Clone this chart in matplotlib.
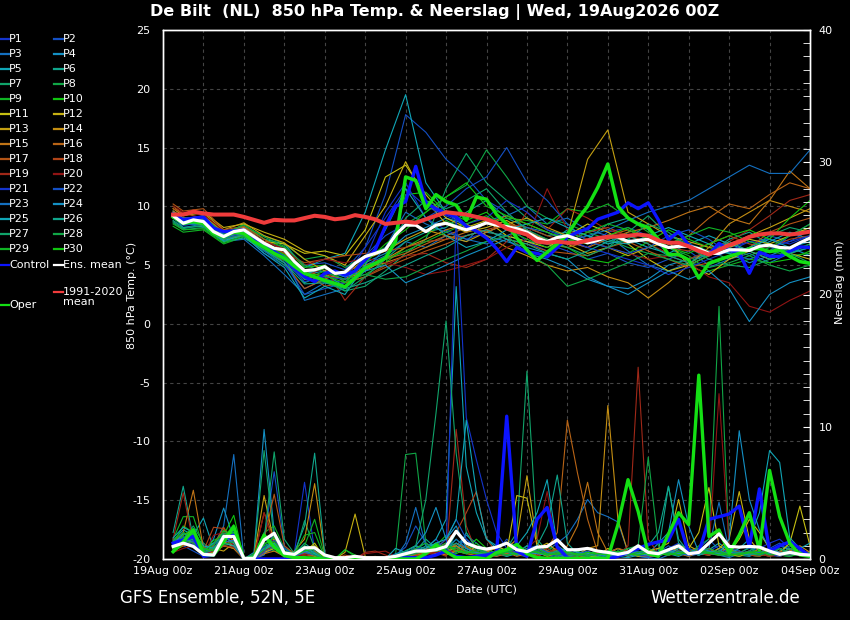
import matplotlib
matplotlib.use('Agg')
import matplotlib.pyplot as plt
from matplotlib.lines import Line2D
from matplotlib.ticker import MultipleLocator
import numpy as np

plt.rcParams['axes.unicode_minus'] = False

# time axis: hours after 19Aug2026 00Z
hours = np.arange(6, 385, 6)                      # 6-hourly (main runs, precip)
member_hours = [6] + list(range(12, 385, 12))     # 12-hourly (member temps)
tick_hours = [0, 48, 96, 144, 192, 240, 288, 336, 384]
tick_labels = ['19Aug 00z', '21Aug 00z', '23Aug 00z', '25Aug 00z', '27Aug 00z',
               '29Aug 00z', '31Aug 00z', '02Sep 00z', '04Sep 00z']

# ---- 850 hPa temperature (deg C), 6-hourly ----
clim_temp = [9.3, 9.3, 9.55, 9.4, 9.3, 9.3, 9.3, 9.1, 8.85, 8.6, 8.85, 8.8, 8.8, 9.0, 9.2, 9.1,
             8.9, 9.0, 9.25, 9.1, 8.9, 8.5, 8.6, 8.7, 8.6, 8.9, 9.2, 9.5, 9.4, 9.3, 9.1, 8.9,
             8.6, 8.1, 7.85, 7.6, 7.0, 6.9, 7.0, 6.9, 6.9, 7.1, 7.3, 7.4, 7.45, 7.5, 7.6, 7.5,
             7.1, 6.9, 6.9, 6.6, 6.2, 5.9, 6.3, 6.7, 7.0, 7.4, 7.6, 7.7, 7.7, 7.6, 7.7, 7.85]
mean_temp = [9.2, 8.56, 8.85, 8.7, 7.85, 7.43, 7.85, 8.0, 7.43, 6.86, 6.43, 6.3, 5.3, 4.53, 4.6, 4.87,
             4.3, 4.4, 5.16, 5.73, 6.0, 6.3, 7.57, 8.4, 8.4, 7.85, 8.4, 8.56, 8.27, 8.0, 8.27, 8.6,
             8.4, 8.27, 8.1, 7.8, 7.3, 7.0, 7.35, 7.5, 7.2, 6.9, 7.1, 7.45, 7.4, 7.0, 7.1, 7.2,
             6.8, 6.5, 6.6, 6.6, 6.4, 6.0, 6.0, 6.3, 6.3, 6.25, 6.6, 6.7, 6.5, 6.45, 6.9, 7.3]
control_temp = [9.3, 8.85, 9.0, 9.1, 8.15, 7.85, 7.9, 8.0, 7.3, 6.6, 6.15, 5.6, 4.75, 4.0, 3.6, 4.3,
                4.5, 4.15, 4.5, 5.45, 6.3, 8.3, 10.0, 10.4, 13.4, 10.3, 9.8, 9.4, 9.1, 8.3, 7.9, 7.3,
                6.4, 5.3, 6.5, 6.1, 6.0, 5.7, 6.5, 7.4, 7.8, 8.1, 8.9, 9.2, 9.5, 10.3, 9.8, 10.3,
                8.85, 7.15, 7.85, 6.7, 6.3, 5.9, 6.85, 6.3, 6.0, 4.3, 6.1, 5.75, 5.75, 6.2, 6.55, 6.5]
oper_temp = [9.1, 8.55, 8.7, 8.55, 7.7, 7.4, 7.8, 7.7, 7.0, 6.55, 6.0, 5.6, 4.9, 4.3, 4.0, 3.7,
             3.45, 3.15, 3.9, 4.75, 5.15, 5.6, 7.0, 12.5, 12.2, 9.8, 11.0, 10.4, 10.1, 8.8, 10.8, 10.6,
             9.3, 8.5, 7.3, 6.3, 5.4, 6.1, 6.8, 7.6, 8.9, 10.0, 11.6, 13.6, 10.0, 9.0, 8.5, 8.2,
             7.2, 5.9, 5.9, 5.45, 3.9, 5.15, 5.45, 5.75, 6.0, 6.4, 6.4, 6.15, 6.3, 5.75, 5.3, 5.15]

# ---- 6-hourly precipitation (mm) ----
mean_rain = [0.95, 1.2, 0.95, 0.35, 0.3, 1.7, 1.7, 0.05, 0.05, 1.45, 1.95, 0.45, 0.35, 0.85, 0.85, 0.3,
             0.1, 0.1, 0.2, 0.1, 0.1, 0.1, 0.2, 0.4, 0.6, 0.6, 0.7, 0.95, 2.1, 1.2, 0.9, 0.75,
             0.9, 1.2, 0.7, 0.55, 0.9, 0.95, 1.45, 0.7, 0.7, 0.8, 0.6, 0.5, 0.35, 0.5, 1.0, 0.5,
             0.4, 0.7, 1.0, 0.4, 0.5, 1.2, 1.9, 0.95, 0.9, 0.95, 0.9, 0.6, 0.35, 0.5, 0.35, 0.3]
control_rain = [1.2, 1.45, 1.7, 0.2, 0.3, 1.5, 1.8, 0, 0, 0, 0, 0, 0, 0, 0, 0,
                0, 0, 0, 0, 0, 0, 0, 0.1, 0.1, 0.1, 0.3, 0.6, 0.2, 0.1, 0.2, 0.3,
                0.5, 10.8, 0.6, 0.2, 3.0, 3.9, 0.9, 0.1, 0, 0, 0, 0, 0.2, 0.5, 0.8, 1.1,
                1.3, 1.4, 3.0, 0.4, 0.5, 3.0, 3.2, 3.4, 4.0, 0.9, 5.3, 0.6, 1.0, 1.3, 0.8, 0.2]
oper_rain = [0.55, 1.3, 2.2, 0.35, 0.3, 1.3, 2.45, 0, 0.1, 1.8, 0.9, 0.25, 0.1, 0.1, 0.05, 0,
             0, 0, 0, 0, 0, 0, 0, 0, 0, 0.4, 1.06, 0.55, 0.1, 0.1, 0.1, 0,
             0.5, 0.7, 1.1, 0.4, 0.1, 0.05, 0.05, 0.05, 0.05, 0.05, 0.05, 0.05, 2.6, 6.0, 3.6, 0.4,
             0.2, 1.9, 3.5, 2.6, 13.9, 1.7, 2.2, 0.45, 1.8, 3.5, 0.7, 6.7, 3.2, 1.2, 0.3, 0.2]

# ---- perturbed members: temperature (12-hourly) ----
T_P1 = [9.0, 8.4, 8.6, 7.2, 7.5, 6.0, 5.0, 3.0, 3.8, 3.5, 5.5, 9.5, 12.0, 9.0, 8.0, 7.2, 7.8,
        8.5, 7.0, 6.2, 7.0, 6.5, 7.8, 8.2, 7.5, 6.0, 5.5, 5.8, 6.5, 7.0, 7.2, 6.8, 7.5]
T_P2 = [9.4, 8.8, 9.0, 7.8, 8.2, 7.0, 6.5, 5.0, 5.2, 4.6, 6.5, 11.0, 17.8, 16.3, 14.0, 12.5, 10.5,
        9.5, 8.0, 6.8, 6.2, 5.5, 6.0, 5.2, 4.8, 5.5, 6.2, 5.0, 5.8, 6.5, 7.5, 7.0, 8.0]
T_P3 = [9.1, 8.2, 8.5, 7.0, 7.2, 5.8, 4.2, 2.5, 3.5, 3.2, 5.0, 5.8, 7.0, 6.5, 7.5, 7.0, 8.8,
        9.2, 10.0, 8.5, 9.0, 8.0, 7.5, 6.2, 5.0, 4.5, 5.2, 4.8, 5.5, 6.0, 5.2, 6.0, 6.5]
T_P4 = [9.3, 8.6, 8.8, 7.6, 7.8, 6.5, 5.8, 4.2, 4.5, 4.0, 5.2, 6.0, 7.5, 8.2, 9.0, 8.5, 7.5,
        7.0, 6.5, 6.0, 5.5, 4.0, 3.2, 3.0, 3.8, 5.0, 5.5, 6.2, 6.0, 5.2, 5.8, 6.5, 5.8]
T_P5 = [9.6, 9.0, 9.1, 7.8, 8.3, 7.2, 6.8, 4.8, 5.5, 6.0, 9.5, 14.8, 19.5, 12.0, 9.5, 8.2, 7.8,
        7.5, 7.0, 6.8, 8.0, 7.5, 6.8, 7.2, 6.5, 6.0, 6.8, 7.5, 6.8, 6.2, 7.0, 7.8, 7.2]
T_P6 = [9.0, 8.5, 8.4, 7.2, 8.0, 6.8, 5.8, 3.5, 4.2, 3.2, 4.8, 5.5, 7.0, 7.8, 8.2, 9.5, 10.5,
        9.0, 8.2, 7.5, 7.8, 7.2, 8.5, 9.0, 8.0, 6.5, 5.5, 6.0, 7.2, 7.8, 6.8, 6.0, 6.8]
T_P7 = [8.6, 8.0, 8.2, 7.0, 7.6, 6.2, 5.0, 4.0, 3.8, 2.8, 3.2, 4.5, 6.0, 7.2, 11.5, 14.5, 12.0,
        10.5, 9.0, 8.0, 7.5, 7.0, 6.5, 7.8, 9.2, 7.5, 6.8, 6.2, 5.5, 6.2, 7.5, 8.2, 7.8]
T_P8 = [9.2, 8.7, 9.0, 7.8, 8.2, 7.5, 6.8, 5.5, 5.8, 4.8, 5.8, 6.5, 8.5, 9.5, 10.8, 11.8, 14.8,
        12.5, 10.0, 9.0, 8.5, 7.8, 7.2, 6.5, 6.0, 5.8, 5.2, 4.8, 5.2, 5.8, 6.5, 6.2, 6.8]
T_P9 = [8.3, 7.8, 8.0, 6.8, 7.4, 6.2, 5.4, 3.8, 4.5, 3.6, 4.2, 5.2, 6.5, 7.5, 8.8, 8.0, 8.5,
        9.0, 8.8, 8.5, 9.8, 9.5, 10.2, 9.0, 7.8, 6.5, 5.8, 4.5, 5.0, 5.5, 6.2, 5.8, 6.0]
T_P10 = [9.0, 8.5, 8.8, 7.5, 8.5, 7.2, 6.5, 4.8, 5.0, 3.5, 4.0, 5.0, 11.0, 11.2, 9.5, 8.8, 9.5,
         8.0, 7.5, 6.8, 6.5, 5.5, 5.2, 6.0, 7.0, 8.0, 7.2, 6.5, 6.0, 5.5, 5.2, 5.5, 6.2]
T_P11 = [9.5, 8.8, 9.2, 7.8, 8.0, 7.0, 6.8, 6.0, 6.2, 5.8, 8.0, 12.5, 13.5, 11.0, 9.0, 8.2, 8.8,
         7.5, 7.0, 6.5, 7.5, 8.5, 7.8, 6.8, 5.5, 4.5, 5.0, 5.8, 6.5, 7.2, 6.8, 7.5, 8.2]
T_P12 = [9.8, 9.2, 9.5, 8.2, 8.5, 7.8, 7.2, 6.2, 5.8, 5.0, 7.5, 10.0, 13.8, 10.5, 8.5, 7.8, 8.2,
         8.8, 7.8, 7.2, 6.8, 6.0, 6.5, 5.8, 6.5, 7.0, 5.0, 4.2, 5.5, 6.2, 5.5, 6.0, 5.5]
T_P13 = [10.0, 9.3, 9.4, 8.0, 8.6, 7.5, 6.9, 5.5, 4.5, 4.2, 5.5, 6.2, 7.2, 8.0, 7.5, 7.0, 7.8,
         8.5, 9.0, 8.2, 7.5, 14.0, 16.5, 9.5, 8.5, 7.5, 7.0, 6.5, 6.8, 7.5, 8.2, 9.0, 9.8]
T_P14 = [9.2, 8.9, 9.2, 7.8, 8.2, 7.0, 6.0, 4.5, 4.0, 3.8, 4.5, 5.5, 6.5, 7.2, 8.0, 8.5, 7.5,
         6.5, 5.8, 5.0, 4.5, 4.8, 4.0, 3.5, 2.2, 3.5, 5.0, 6.5, 8.5, 9.5, 10.5, 10.0, 9.5]
T_P15 = [9.6, 9.0, 8.8, 7.5, 7.8, 6.5, 5.5, 3.8, 4.2, 3.8, 4.8, 5.2, 5.8, 6.5, 7.2, 7.8, 8.5,
         9.2, 8.5, 7.8, 7.0, 6.5, 7.2, 7.8, 8.2, 8.8, 9.5, 10.0, 9.0, 8.5, 10.5, 13.0, 11.5]
T_P16 = [9.0, 8.6, 8.5, 7.2, 7.5, 6.6, 5.2, 3.0, 3.8, 4.5, 5.0, 5.5, 6.0, 6.8, 7.5, 8.2, 7.8,
         8.5, 8.0, 7.0, 6.5, 7.0, 7.5, 8.0, 7.2, 6.8, 7.5, 9.0, 10.2, 9.8, 11.0, 12.0, 11.5]
T_P17 = [10.2, 9.6, 9.8, 8.0, 8.3, 7.2, 6.2, 4.5, 3.2, 3.5, 4.0, 4.8, 5.5, 6.2, 6.8, 7.5, 8.0,
         7.2, 6.8, 6.2, 6.0, 5.8, 6.5, 7.0, 6.2, 5.5, 4.8, 5.2, 5.8, 6.5, 7.8, 8.5, 9.0]
T_P18 = [9.8, 9.4, 9.0, 7.6, 7.9, 6.8, 6.0, 5.2, 5.5, 5.8, 6.0, 6.2, 6.5, 7.0, 7.2, 7.5, 8.0,
         8.5, 8.2, 7.5, 7.0, 7.8, 8.2, 7.5, 7.0, 6.5, 6.2, 6.8, 7.5, 6.8, 6.5, 7.2, 7.5]
T_P19 = [9.4, 9.0, 8.9, 7.4, 7.7, 6.3, 5.6, 4.0, 4.8, 2.0, 4.0, 5.0, 5.8, 6.0, 5.2, 4.8, 5.5,
         7.0, 9.5, 8.0, 9.8, 9.0, 8.0, 7.5, 6.8, 6.0, 5.5, 6.2, 7.0, 8.0, 9.2, 10.5, 11.0]
T_P20 = [10.0, 9.5, 9.3, 7.9, 8.1, 7.0, 6.4, 5.0, 5.5, 5.2, 5.6, 5.2, 4.8, 4.2, 4.5, 5.0, 5.5,
         6.5, 7.2, 11.5, 8.0, 7.2, 6.5, 6.0, 5.5, 5.8, 5.2, 4.0, 3.5, 1.5, 1.0, 2.0, 2.8]
T_P21 = [9.2, 8.7, 8.8, 7.5, 7.8, 6.4, 5.4, 3.6, 4.0, 3.8, 6.5, 9.0, 11.5, 10.0, 9.2, 8.5, 9.0,
         10.5, 9.5, 8.0, 7.2, 6.5, 6.0, 5.5, 5.0, 4.2, 4.8, 5.5, 6.2, 7.0, 6.5, 7.0, 7.5]
T_P22 = [9.0, 8.4, 8.6, 7.3, 7.6, 6.2, 5.2, 2.5, 3.0, 3.5, 5.8, 7.5, 8.5, 9.0, 10.0, 11.5, 12.5,
         15.0, 12.0, 10.5, 8.5, 7.0, 6.5, 6.0, 6.5, 7.5, 8.0, 7.2, 6.0, 5.5, 6.2, 7.5, 8.5]
T_P23 = [9.3, 8.8, 8.7, 7.4, 7.7, 6.6, 5.8, 2.0, 2.5, 3.0, 4.5, 6.5, 9.5, 8.5, 7.8, 7.2, 6.8,
         7.5, 8.2, 7.8, 7.0, 7.5, 8.0, 8.8, 9.5, 10.0, 10.5, 11.5, 12.5, 13.5, 12.8, 12.8, 14.8]
T_P24 = [9.5, 9.0, 8.9, 7.6, 8.0, 6.8, 6.2, 4.2, 4.8, 4.0, 4.5, 5.0, 3.5, 4.2, 5.0, 5.8, 6.5,
         7.2, 6.0, 5.5, 4.8, 3.8, 3.2, 2.5, 3.5, 4.5, 3.8, 4.5, 3.0, 0.2, 2.5, 3.5, 4.0]
T_P25 = [9.1, 8.6, 8.5, 7.1, 7.5, 6.0, 4.8, 2.2, 3.2, 2.5, 5.0, 8.0, 11.5, 9.0, 7.5, 6.5, 7.0,
         8.0, 8.5, 9.0, 8.2, 7.5, 7.0, 6.8, 7.5, 8.2, 7.5, 6.8, 6.0, 6.5, 7.2, 6.5, 7.0]
T_P26 = [8.8, 8.2, 8.3, 7.0, 7.3, 6.3, 5.2, 3.4, 3.5, 3.0, 3.5, 4.2, 5.0, 5.8, 6.5, 7.5, 8.0,
         7.2, 6.8, 6.0, 5.5, 6.2, 7.0, 7.5, 6.8, 5.8, 5.2, 6.0, 7.0, 6.2, 5.5, 6.0, 6.5]
T_P27 = [8.7, 8.1, 8.4, 7.2, 7.6, 6.6, 5.6, 3.8, 3.6, 2.8, 4.0, 5.5, 9.0, 10.5, 9.8, 10.5, 11.5,
         9.5, 8.0, 7.2, 6.5, 5.8, 6.5, 7.2, 8.5, 7.8, 6.5, 5.5, 5.0, 4.8, 5.5, 6.0, 5.2]
T_P28 = [9.3, 8.8, 9.1, 7.7, 8.4, 7.4, 6.6, 5.0, 4.4, 3.8, 4.2, 3.8, 4.0, 4.8, 5.5, 6.2, 7.0,
         7.5, 6.0, 5.0, 3.2, 3.8, 4.5, 5.2, 6.0, 5.5, 5.0, 5.8, 6.5, 5.8, 5.0, 4.5, 5.0]
T_P29 = [8.5, 8.0, 8.1, 6.9, 7.5, 6.4, 5.4, 4.4, 4.7, 4.2, 4.8, 5.5, 6.2, 7.0, 7.8, 8.5, 9.2,
         8.0, 7.2, 6.5, 7.0, 7.8, 8.5, 8.0, 7.2, 6.8, 7.5, 8.2, 7.8, 7.0, 6.5, 7.5, 8.5]
T_P30 = [9.1, 8.6, 8.7, 7.4, 8.0, 6.7, 5.9, 4.3, 4.1, 3.5, 5.2, 6.8, 8.0, 9.5, 10.8, 12.0, 10.0,
         9.2, 8.5, 7.8, 7.2, 6.8, 7.5, 8.2, 7.2, 6.5, 6.0, 6.8, 7.5, 8.0, 7.2, 9.0, 10.5]

# ---- perturbed members: precipitation (6-hourly) ----
R_P1 = [0.8, 1.2, 1.0, 0.3, 0.6, 1.2, 1.5, 0, 0, 0.4, 0.8, 0.3, 0.5, 5.8, 0.6, 0.1,
        0, 0, 0, 0, 0, 0, 0.1, 0.3, 0.5, 0.8, 1.5, 0.6, 0.8, 1.5, 0.8, 0.4,
        0.2, 0.5, 0.8, 0.3, 0.2, 0.6, 0.3, 0.1, 0, 0, 0.2, 0.5, 0.8, 0.3, 0.2, 0.1,
        0.3, 0.8, 1.2, 0.5, 0.3, 0.6, 1.0, 0.4, 0.2, 0.5, 0.8, 1.2, 1.5, 0.8, 0.4, 0.2]
R_P2 = [1.5, 1.0, 0.6, 0.2, 0.8, 1.8, 2.0, 0, 0.2, 1.5, 6.6, 1.0, 0.3, 0.2, 0.5, 0,
        0, 0, 0, 0, 0, 0, 0, 0.2, 1.0, 0.5, 0.8, 0.5, 1.2, 0.8, 0.5, 0.3,
        0.5, 1.5, 0.8, 0.4, 0.2, 0.1, 0.3, 0.5, 0.8, 0.3, 0.1, 0, 0.2, 0.5, 0.3, 0.1,
        0.5, 1.0, 0.6, 0.3, 0.8, 1.5, 0.7, 0.3, 0.6, 0.3, 0.2, 0.8, 1.2, 0.6, 0.3, 0.5]
R_P3 = [1.2, 2.0, 1.5, 0.4, 1.0, 2.5, 7.9, 0, 0, 0.3, 1.5, 0.8, 0.2, 0.5, 0.3, 0,
        0, 0, 0, 0.1, 0, 0, 0.2, 0.5, 0.8, 1.2, 0.5, 0.3, 1.0, 1.8, 1.2, 0.6,
        0.4, 0.8, 0.3, 0.5, 0.2, 0.6, 1.2, 1.8, 3.0, 4.5, 3.5, 3.2, 2.8, 0.5, 0.2, 0.1,
        0, 0.3, 0.5, 0.2, 0.4, 0.8, 0.3, 0.1, 0.4, 0.9, 0.5, 0.3, 0.2, 0.6, 0.4, 0.2]
R_P4 = [1.0, 1.6, 1.2, 0.5, 1.5, 3.85, 1.5, 0, 0.5, 9.8, 2.0, 0.6, 0.3, 1.0, 0.4, 0,
        0, 0, 0, 0, 0, 0.1, 0, 0, 0.3, 0.6, 1.2, 0.8, 0.5, 2.0, 0.8, 0.3,
        0.6, 0.2, 0.4, 1.0, 0.5, 0.3, 0.8, 0.4, 0.2, 0.5, 0.3, 0.1, 0.3, 0.8, 0.5, 0.4,
        1.2, 2.0, 6.0, 2.5, 0.5, 0.8, 0.4, 0.3, 0.5, 0.3, 0.6, 0.4, 1.0, 0.7, 0.3, 0.6]
R_P5 = [1.4, 2.2, 1.8, 3.1, 0.8, 1.0, 0.9, 0, 0.1, 0.6, 0.9, 0.4, 0.2, 0.5, 0.3, 0,
        0, 0, 0, 0, 0, 0, 0.2, 0.6, 1.0, 0.8, 1.5, 3.0, 20.6, 7.0, 3.5, 1.5,
        1.0, 0.6, 0.3, 0.5, 0.8, 0.4, 0.2, 0.3, 0.1, 0.4, 0.6, 0.3, 0.2, 0.1, 0.3, 0.5,
        0.8, 0.4, 0.2, 0.5, 0.3, 0.7, 1.2, 0.6, 0.3, 0.2, 0.5, 0.8, 0.4, 0.3, 0.6, 0.2]
R_P6 = [2.0, 5.5, 1.5, 0.8, 1.2, 2.0, 1.0, 0, 0, 0.5, 1.8, 0.8, 0.4, 1.2, 0.6, 0,
        0, 0, 0, 0, 0, 0, 0, 0.3, 0.6, 1.5, 0.8, 0.5, 2.0, 1.2, 0.6, 0.8,
        0.4, 0.2, 0.5, 1.0, 0.6, 0.3, 0.8, 0.5, 0.3, 0.1, 0.2, 0.4, 0.8, 0.5, 0.3, 0.2,
        0.5, 5.5, 1.2, 0.6, 0.4, 0.3, 0.8, 0.5, 0.3, 0.6, 1.0, 0.5, 0.3, 0.2, 0.4, 0.3]
R_P7 = [1.0, 1.5, 2.5, 1.2, 0.6, 1.5, 2.2, 0, 0.3, 8.2, 1.5, 0.5, 0.2, 2.9, 0.8, 0,
        0, 0, 0, 0, 0, 0, 0.1, 0.2, 0.4, 0.8, 1.2, 0.6, 1.5, 0.8, 0.5, 0.3,
        0.5, 0.8, 2.0, 14.2, 1.5, 0.6, 0.3, 0.2, 0.1, 0.3, 0.5, 0.2, 0.4, 0.8, 0.5, 0.3,
        0.2, 0.6, 0.4, 0.3, 0.8, 0.5, 0.3, 0.2, 0.5, 0.8, 0.4, 0.2, 0.6, 1.0, 0.5, 0.3]
R_P8 = [0.8, 1.2, 1.0, 0.5, 0.8, 1.5, 1.8, 0, 0.2, 1.0, 0.6, 0.4, 0.3, 0.8, 0.5, 0.1,
        0, 0.1, 0, 0, 0, 0.1, 0.3, 7.9, 8.0, 1.2, 0.6, 0.8, 1.0, 0.5, 0.8, 0.4,
        0.3, 0.6, 0.4, 0.8, 0.5, 0.3, 0.2, 0.4, 0.6, 0.3, 0.2, 0.1, 0.3, 0.5, 0.4, 0.8,
        0.5, 0.3, 0.6, 0.4, 1.0, 1.5, 19.1, 0.8, 0.4, 0.3, 0.6, 0.5, 0.3, 0.8, 0.4, 0.2]
R_P9 = [1.5, 3.2, 3.2, 0.9, 1.0, 2.2, 1.6, 0, 0.4, 2.0, 2.5, 0.8, 0.5, 1.0, 3.0, 0.2,
        0, 0.7, 0.2, 0, 0, 0, 0.1, 0.3, 0.8, 0.5, 1.0, 1.8, 0.8, 0.6, 1.2, 0.5,
        0.3, 0.5, 0.8, 0.4, 0.6, 1.0, 0.5, 0.3, 0.2, 0.4, 0.3, 0.5, 0.8, 0.4, 0.2, 0.6,
        0.8, 0.4, 0.3, 0.6, 0.4, 0.8, 0.5, 0.3, 0.2, 0.4, 0.8, 0.5, 0.3, 0.2, 0.4, 0.3]
R_P10 = [1.2, 2.5, 2.0, 0.6, 1.4, 1.8, 3.3, 0, 0, 1.0, 1.2, 0.5, 0.3, 0.6, 0.4, 0,
         0, 0, 0.1, 0, 0, 0, 0, 0.2, 0.5, 0.3, 1.2, 0.6, 0.4, 0.8, 1.5, 0.8,
         0.4, 0.6, 0.3, 0.2, 0.5, 0.8, 0.4, 0.3, 0.2, 0.1, 0.4, 0.6, 0.3, 0.5, 1.0, 0.5,
         0.3, 0.6, 0.4, 0.8, 0.5, 0.3, 0.6, 0.4, 0.5, 0.3, 0.2, 0.6, 0.8, 0.4, 0.3, 0.2]
R_P11 = [0.6, 1.0, 1.4, 0.4, 0.7, 1.2, 1.0, 0, 0, 0.6, 1.5, 0.4, 0.2, 0.5, 1.2, 0,
         0, 0, 0, 0, 0, 0, 0, 0.1, 0.4, 0.8, 0.5, 0.3, 0.6, 1.0, 0.5, 0.2,
         0.3, 0.5, 4.8, 4.6, 1.0, 0.4, 0.2, 0.5, 0.3, 0.1, 0.2, 0.8, 0.4, 0.6, 0.3, 0.2,
         0.5, 0.3, 1.0, 0.8, 2.0, 5.4, 1.0, 0.5, 1.5, 3.0, 2.0, 0.8, 0.5, 1.2, 4.0, 1.0]
R_P12 = [0.5, 1.2, 1.8, 0.3, 0.5, 1.0, 0.8, 0, 0.1, 0.5, 0.8, 0.3, 0.2, 0.8, 1.0, 0,
         0, 0.5, 3.4, 0.2, 0, 0, 0, 0, 0.2, 0.5, 0.3, 0.6, 0.8, 0.4, 0.3, 0.5,
         1.0, 0.6, 0.3, 0.5, 0.8, 1.2, 0.6, 0.3, 0.2, 0.1, 0.3, 0.4, 0.2, 0.5, 0.3, 0.6,
         0.8, 1.2, 4.5, 1.0, 0.6, 0.4, 0.8, 1.5, 5.1, 1.5, 0.6, 0.3, 0.8, 0.5, 0.3, 0.2]
R_P13 = [0.8, 1.5, 1.2, 0.5, 0.8, 0.6, 1.2, 0, 0.2, 4.8, 1.2, 0.4, 0.3, 0.5, 0.2, 0,
         0, 0, 0, 0, 0, 0, 0, 0.1, 0.3, 0.5, 0.8, 1.2, 0.6, 0.4, 1.0, 0.5,
         0.4, 0.8, 1.5, 6.3, 1.2, 0.5, 0.3, 0.2, 0.1, 0.3, 0.6, 0.4, 0.8, 0.5, 0.2, 0.3,
         0.5, 0.3, 0.8, 0.6, 0.4, 0.3, 0.6, 0.4, 0.2, 0.5, 0.3, 0.6, 0.4, 0.8, 0.5, 0.3]
R_P14 = [1.0, 1.8, 2.2, 0.6, 0.5, 1.2, 1.5, 0, 0.1, 0.8, 1.0, 0.3, 0.6, 1.5, 5.7, 0.3,
         0, 0, 0, 0, 0, 0, 0, 0, 0.3, 0.6, 0.4, 0.8, 1.0, 0.5, 0.3, 0.6,
         0.8, 0.4, 0.6, 0.3, 0.5, 0.2, 0.4, 0.6, 0.3, 0.8, 1.0, 11.6, 3.0, 0.5, 0.3, 0.2,
         0.4, 0.6, 0.3, 0.5, 0.8, 0.4, 0.3, 0.5, 0.6, 0.3, 0.5, 0.8, 0.4, 0.6, 1.0, 0.5]
R_P15 = [1.2, 2.0, 5.2, 0.8, 0.6, 1.0, 0.8, 0, 0, 0.4, 0.6, 0.2, 0.1, 0.3, 0.2, 0,
         0, 0, 0, 0, 0, 0, 0, 0, 0.2, 0.4, 0.6, 0.3, 0.8, 0.5, 0.4, 0.6,
         0.3, 0.5, 0.2, 0.4, 0.8, 0.6, 0.3, 1.0, 2.5, 5.8, 2.0, 0.5, 0.3, 0.6, 0.4, 0.2,
         0.3, 0.6, 0.4, 0.2, 0.5, 0.8, 0.4, 0.3, 0.5, 0.3, 0.8, 0.4, 0.2, 0.5, 0.6, 0.3]
R_P16 = [0.9, 1.4, 1.6, 0.5, 0.8, 1.5, 1.0, 0, 0.2, 3.5, 1.5, 0.5, 0.2, 0.4, 0.6, 0,
         0, 0, 0, 0, 0, 0, 0, 0.1, 0.3, 0.8, 0.5, 0.4, 1.2, 0.8, 0.5, 0.3,
         0.2, 0.4, 0.6, 0.5, 0.3, 0.8, 2.0, 10.5, 6.5, 3.0, 0.5, 0.2, 0.4, 0.3, 0.5, 0.2,
         0.3, 0.5, 0.8, 0.4, 0.6, 0.3, 0.5, 0.8, 0.4, 0.6, 0.3, 0.5, 0.8, 0.4, 0.3, 0.5]
R_P17 = [0.7, 1.0, 1.3, 0.4, 1.0, 2.4, 1.2, 0, 0.3, 1.5, 4.9, 1.0, 0.4, 0.6, 0.3, 0,
         0, 0, 0, 0.1, 0.2, 0, 0, 0.2, 0.5, 0.3, 0.8, 0.5, 0.6, 1.0, 0.4, 0.2,
         0.3, 0.6, 0.4, 0.2, 0.5, 0.3, 0.8, 0.4, 0.2, 0.4, 0.3, 0.5, 0.8, 0.6, 0.3, 0.2,
         0.4, 0.3, 0.6, 0.5, 0.3, 0.8, 0.4, 0.6, 0.3, 0.5, 0.4, 0.2, 0.6, 0.3, 0.5, 0.4]
R_P18 = [0.6, 1.1, 0.9, 0.6, 2.4, 2.3, 1.3, 0, 0.2, 0.8, 1.2, 0.4, 0.2, 0.5, 0.3, 0,
         0, 0.3, 0.1, 0, 0, 0, 0, 0, 0.3, 0.6, 0.8, 1.5, 2.0, 3.5, 5.1, 1.5,
         0.5, 0.3, 0.6, 0.4, 0.2, 0.5, 0.8, 0.3, 0.2, 0.4, 0.6, 0.3, 0.5, 0.2, 0.4, 0.3,
         0.5, 0.3, 0.4, 0.6, 0.8, 0.3, 0.5, 0.4, 0.6, 0.3, 0.2, 0.5, 0.4, 0.3, 0.6, 0.5]
R_P19 = [1.5, 5.0, 1.2, 0.4, 0.6, 1.0, 0.9, 0, 0, 0.6, 1.0, 0.3, 0.2, 0.4, 0.3, 0,
         0, 0, 0, 0.5, 0.6, 0.3, 0, 0, 0.2, 0.4, 0.5, 0.2, 9.8, 2.5, 0.5, 0.3,
         0.4, 0.6, 0.3, 0.5, 0.2, 0.8, 0.4, 0.3, 0.2, 0.3, 0.5, 0.4, 0.3, 1.0, 14.5, 1.5,
         0.4, 0.3, 0.5, 0.6, 0.4, 0.3, 0.5, 0.4, 0.3, 0.5, 0.4, 0.2, 0.3, 0.6, 0.4, 0.3]
R_P20 = [0.5, 0.8, 1.0, 0.3, 1.8, 2.0, 1.0, 0, 0.1, 3.5, 1.0, 0.3, 0.2, 0.3, 0.1, 0,
         0, 0, 0, 0.4, 0.5, 0.6, 0.2, 0, 0.1, 0.3, 0.5, 0.4, 0.8, 0.5, 0.3, 0.2,
         0.4, 0.3, 0.5, 0.8, 1.5, 5.1, 0.6, 0.3, 0.2, 0.4, 0.3, 0.6, 0.4, 0.2, 0.5, 0.3,
         0.4, 0.6, 0.3, 0.5, 0.8, 0.5, 12.5, 1.0, 0.5, 0.3, 0.6, 0.4, 0.2, 0.5, 0.3, 0.4]
R_P21 = [1.0, 1.3, 1.1, 0.5, 0.9, 1.4, 1.8, 0, 0.2, 0.9, 1.4, 0.6, 0.3, 0.7, 0.4, 0,
         0, 0, 0, 0, 0, 0, 0.2, 0.4, 0.8, 0.6, 1.0, 0.5, 26.0, 10.7, 7.5, 4.5,
         2.0, 0.8, 0.5, 0.3, 0.6, 0.4, 0.2, 0.5, 0.3, 0.2, 0.4, 0.6, 0.5, 0.3, 0.8, 0.4,
         0.6, 0.3, 0.5, 0.8, 0.4, 0.6, 0.3, 0.5, 0.4, 0.6, 0.3, 0.5, 0.8, 0.4, 0.3, 0.2]
R_P22 = [1.3, 1.7, 1.4, 0.7, 1.1, 1.6, 2.2, 0, 0, 0.5, 2.0, 0.8, 0.3, 0.6, 0.4, 0,
         0, 0, 0, 0, 0, 0, 0.3, 0.9, 2.5, 1.2, 0.8, 1.5, 3.0, 1.5, 0.8, 0.5,
         0.3, 0.6, 0.4, 0.8, 1.0, 0.5, 0.3, 0.6, 0.4, 0.5, 0.3, 0.2, 0.6, 0.4, 0.3, 0.2,
         0.5, 0.8, 0.4, 0.3, 0.6, 0.5, 0.4, 0.8, 0.6, 0.3, 0.5, 0.4, 0.2, 0.5, 0.8, 0.3]
R_P23 = [0.9, 1.5, 1.3, 0.4, 0.7, 1.3, 1.4, 0, 0.2, 1.2, 0.8, 0.4, 0.2, 0.5, 0.3, 0,
         0, 0, 0, 0, 0, 0, 0.1, 1.2, 3.9, 1.0, 0.6, 0.8, 1.5, 0.8, 0.4, 0.3,
         0.5, 0.3, 0.6, 0.4, 0.8, 0.5, 0.3, 0.2, 0.4, 0.6, 0.3, 0.5, 0.2, 0.4, 0.6, 0.3,
         0.2, 0.5, 0.4, 0.3, 0.6, 0.8, 4.3, 0.6, 0.4, 0.3, 0.5, 0.8, 0.4, 0.3, 0.5, 0.2]
R_P24 = [1.1, 1.9, 1.6, 0.6, 1.2, 1.7, 1.2, 0, 0.3, 1.5, 1.0, 0.5, 0.3, 0.8, 0.5, 0,
         0, 0, 0, 0, 0, 0, 0.4, 0.6, 1.0, 2.0, 3.9, 1.5, 2.5, 0.8, 0.5, 0.3,
         0.4, 0.6, 0.3, 0.5, 0.4, 0.3, 0.6, 0.8, 0.5, 0.3, 0.4, 0.2, 0.3, 0.6, 0.4, 0.5,
         0.3, 0.6, 0.4, 0.5, 0.8, 0.6, 0.4, 1.5, 9.7, 4.5, 2.2, 0.8, 0.5, 0.4, 0.6, 0.3]
R_P25 = [1.6, 2.4, 2.0, 1.0, 0.8, 1.2, 1.0, 0, 0.2, 0.8, 1.2, 0.5, 0.3, 0.6, 0.4, 0,
         0, 0, 0, 0, 0, 0, 0.8, 0.5, 0.6, 0.8, 1.2, 1.5, 3.0, 10.5, 5.0, 1.5,
         0.8, 0.5, 1.0, 2.0, 3.5, 6.0, 1.0, 0.5, 0.3, 0.4, 0.6, 0.3, 0.5, 0.2, 0.4, 0.3,
         0.5, 0.4, 0.8, 0.6, 0.3, 0.5, 0.6, 0.4, 0.8, 1.5, 3.5, 8.2, 7.3, 1.6, 0.8, 1.2]
R_P26 = [0.7, 1.2, 1.5, 0.5, 0.9, 1.4, 1.7, 0, 0.1, 0.7, 1.1, 0.3, 0.5, 2.5, 8.0, 0.4,
         0, 0, 0, 0, 0, 0, 0, 0.3, 0.5, 1.0, 0.6, 0.8, 1.2, 0.6, 0.4, 0.5,
         0.3, 0.6, 0.8, 0.5, 1.0, 2.5, 6.35, 1.2, 0.4, 0.3, 0.2, 0.5, 0.3, 0.6, 0.4, 1.0,
         2.0, 5.5, 1.5, 0.5, 0.3, 0.6, 0.4, 0.3, 0.5, 0.3, 0.6, 0.4, 0.8, 0.5, 0.3, 0.2]
R_P27 = [1.1, 1.6, 1.9, 0.7, 0.8, 1.9, 2.0, 0, 0.3, 1.5, 8.1, 1.5, 0.4, 1.0, 0.5, 0,
         0, 0, 0, 0, 0, 0, 0.3, 0.6, 1.0, 4.5, 11.0, 18.0, 8.0, 2.0, 0.8, 0.5,
         0.4, 0.6, 0.3, 0.8, 0.5, 0.4, 0.6, 0.3, 0.2, 0.5, 0.4, 0.3, 0.6, 0.4, 0.3, 0.5,
         0.4, 0.3, 0.6, 0.5, 0.8, 0.4, 0.3, 0.6, 0.5, 0.4, 0.3, 0.6, 0.4, 0.8, 0.5, 0.3]
R_P28 = [0.9, 1.4, 1.2, 0.5, 0.7, 1.1, 1.3, 0, 0.1, 0.7, 1.8, 0.5, 0.3, 0.8, 0.3, 0,
         0, 0, 0, 0, 0, 0, 0, 0.2, 0.4, 0.6, 0.8, 1.2, 0.6, 0.4, 0.8, 0.5,
         0.3, 0.5, 0.8, 0.4, 0.6, 0.3, 0.5, 0.4, 0.3, 0.2, 0.4, 0.6, 0.5, 0.8, 1.0, 7.7,
         1.0, 0.5, 0.3, 0.6, 0.4, 0.8, 0.5, 0.3, 0.4, 0.6, 0.3, 0.5, 0.8, 0.4, 0.3, 0.5]
R_P29 = [1.3, 2.0, 1.7, 0.6, 1.1, 2.1, 1.9, 0, 0.2, 1.1, 1.6, 0.6, 0.4, 1.8, 2.0, 0.1,
         0, 0.7, 0.3, 0, 0, 0, 0.2, 0.4, 0.8, 1.2, 0.6, 1.0, 0.8, 0.5, 0.6, 0.4,
         0.3, 0.6, 0.4, 0.5, 0.8, 0.4, 0.3, 0.5, 0.4, 0.3, 0.6, 0.5, 0.4, 0.3, 0.5, 0.6,
         0.5, 0.4, 0.3, 0.6, 0.5, 0.4, 0.6, 0.3, 0.4, 0.5, 0.6, 0.3, 0.4, 0.5, 0.3, 0.4]
R_P30 = [0.8, 1.8, 2.3, 0.8, 0.6, 1.6, 2.6, 0, 0.1, 1.2, 1.3, 0.4, 0.3, 0.6, 0.8, 0,
         0, 0, 0, 0, 0, 0, 0.1, 0.3, 0.6, 0.4, 0.8, 1.0, 0.6, 0.5, 0.4, 0.3,
         0.5, 0.3, 0.4, 0.6, 0.5, 0.3, 0.4, 0.6, 0.3, 0.5, 0.4, 0.3, 0.6, 0.4, 0.3, 0.5,
         0.4, 0.3, 0.5, 0.4, 0.6, 0.5, 0.3, 0.4, 0.3, 0.5, 0.4, 0.6, 0.3, 0.4, 0.5, 0.3]

member_temps = [T_P1, T_P2, T_P3, T_P4, T_P5, T_P6, T_P7, T_P8, T_P9, T_P10,
                T_P11, T_P12, T_P13, T_P14, T_P15, T_P16, T_P17, T_P18, T_P19, T_P20,
                T_P21, T_P22, T_P23, T_P24, T_P25, T_P26, T_P27, T_P28, T_P29, T_P30]
member_rain = [R_P1, R_P2, R_P3, R_P4, R_P5, R_P6, R_P7, R_P8, R_P9, R_P10,
               R_P11, R_P12, R_P13, R_P14, R_P15, R_P16, R_P17, R_P18, R_P19, R_P20,
               R_P21, R_P22, R_P23, R_P24, R_P25, R_P26, R_P27, R_P28, R_P29, R_P30]
member_names = ['P%d' % i for i in range(1, 31)]

# colour ramp used for P1..P20, repeated for P21..P30
ramp = ['#1434cc', '#1450c4', '#1470c0', '#1490c4', '#10a6b6', '#10a68c', '#10a46a', '#10a646',
        '#10b424', '#10c410', '#c6c012', '#c6b012', '#c4a012', '#c48e12', '#c07416', '#b86416',
        '#b25416', '#b04418', '#a02818', '#901414']
member_colors = [ramp[i % 20] for i in range(30)]

BG = 'black'
CTRL = '#0c14ff'
OPER = '#14e014'
CLIM = '#f03c3c'
GRID = '#444444'

fig = plt.figure(figsize=(8.5, 6.2), dpi=100, facecolor=BG)
ax = fig.add_axes([163 / 850, 1 - 559 / 620, 647 / 850, 529 / 620])
ax.set_facecolor(BG)
ax2 = ax.twinx()

for name, temps, rain, col in zip(member_names, member_temps, member_rain, member_colors):
    ax.plot(member_hours, temps, color=col, lw=0.8, zorder=2)
    ax2.plot(hours, rain, color=col, lw=0.8, zorder=2)

ax2.plot(hours, control_rain, color=CTRL, lw=2.4, zorder=4)
ax2.plot(hours, oper_rain, color=OPER, lw=2.4, zorder=5)
ax2.plot(hours, mean_rain, color='white', lw=2.3, zorder=6)

ax2.plot(hours, control_temp, color=CTRL, lw=2.4, zorder=4, transform=ax.transData)
ax2.plot(hours, oper_temp, color=OPER, lw=2.5, zorder=5, transform=ax.transData)
ax2.plot(hours, mean_temp, color='white', lw=2.3, zorder=6, transform=ax.transData)
ax2.plot(hours, clim_temp, color=CLIM, lw=2.9, zorder=7, transform=ax.transData)

ax.set_xlim(0, 384)
ax.set_ylim(-20, 25)
ax2.set_ylim(0, 40)
ax.set_yticks(range(-20, 26, 5))
ax2.set_yticks([0, 10, 20, 30, 40])
ax2.yaxis.set_minor_locator(MultipleLocator(1))
ax.set_xticks(tick_hours)
ax.set_xticklabels(tick_labels)
ax.xaxis.set_minor_locator(MultipleLocator(24))

ax.tick_params(axis='y', colors='white', labelsize=8, length=0, pad=9)
ax.tick_params(axis='x', which='both', colors='white', labelsize=8, length=0, pad=5)
ax2.tick_params(axis='y', which='both', colors='white', labelsize=8, direction='in', length=5, pad=6)

ax.grid(True, which='both', axis='x', color=GRID, ls=(0, (3, 3)), lw=0.8)
ax.grid(True, which='major', axis='y', color=GRID, ls=(0, (3, 3)), lw=0.8)
for a in (ax, ax2):
    for s in a.spines.values():
        s.set_color('white')
        s.set_linewidth(1.0)

fig.text(435 / 850, 1 - 12 / 620, 'De Bilt  (NL)  850 hPa Temp. & Neerslag | Wed, 19Aug2026 00Z',
         color='white', fontsize=11.5, fontweight='bold', ha='center', va='center')
fig.text(132 / 850, 1 - 295 / 620, '850 hPa Temp. (\u00b0C)', color='white', fontsize=8,
         rotation=90, ha='center', va='center')
fig.text(840 / 850, 1 - 282 / 620, 'Neerslag (mm)', color='white', fontsize=8,
         rotation=90, ha='center', va='center')
fig.text(486 / 850, 1 - 589 / 620, 'Date (UTC)', color='white', fontsize=8, ha='center', va='center')
fig.text(120 / 850, 1 - 598 / 620, 'GFS Ensemble, 52N, 5E', color='white', fontsize=12,
         ha='left', va='center')
fig.text(650 / 850, 1 - 598 / 620, 'Wetterzentrale.de', color='white', fontsize=12,
         ha='left', va='center')

# legend, drawn by hand in pixel positions
def legend_entry(x, y, col, label):
    fig.add_artist(Line2D([x / 850, (x + 9) / 850], [1 - y / 620, 1 - y / 620],
                          color=col, lw=1.6, transform=fig.transFigure))
    fig.text((x + 9) / 850, 1 - y / 620, label, color='white', fontsize=8,
             ha='left', va='center', linespacing=0.95)

for i, (name, col) in enumerate(zip(member_names, member_colors)):
    row, column = divmod(i, 2)
    legend_entry(0 if column == 0 else 54, 39 + 15 * row, col, name)
legend_entry(0, 265, CTRL, 'Control')
legend_entry(54, 265, 'white', 'Ens. mean')
legend_entry(54, 292, CLIM, '1991-2020')
fig.text(63 / 850, 1 - 302 / 620, 'mean', color='white', fontsize=8, ha='left', va='center')
legend_entry(0, 305, OPER, 'Oper')

fig.savefig('out.png', dpi=100, facecolor=BG)
